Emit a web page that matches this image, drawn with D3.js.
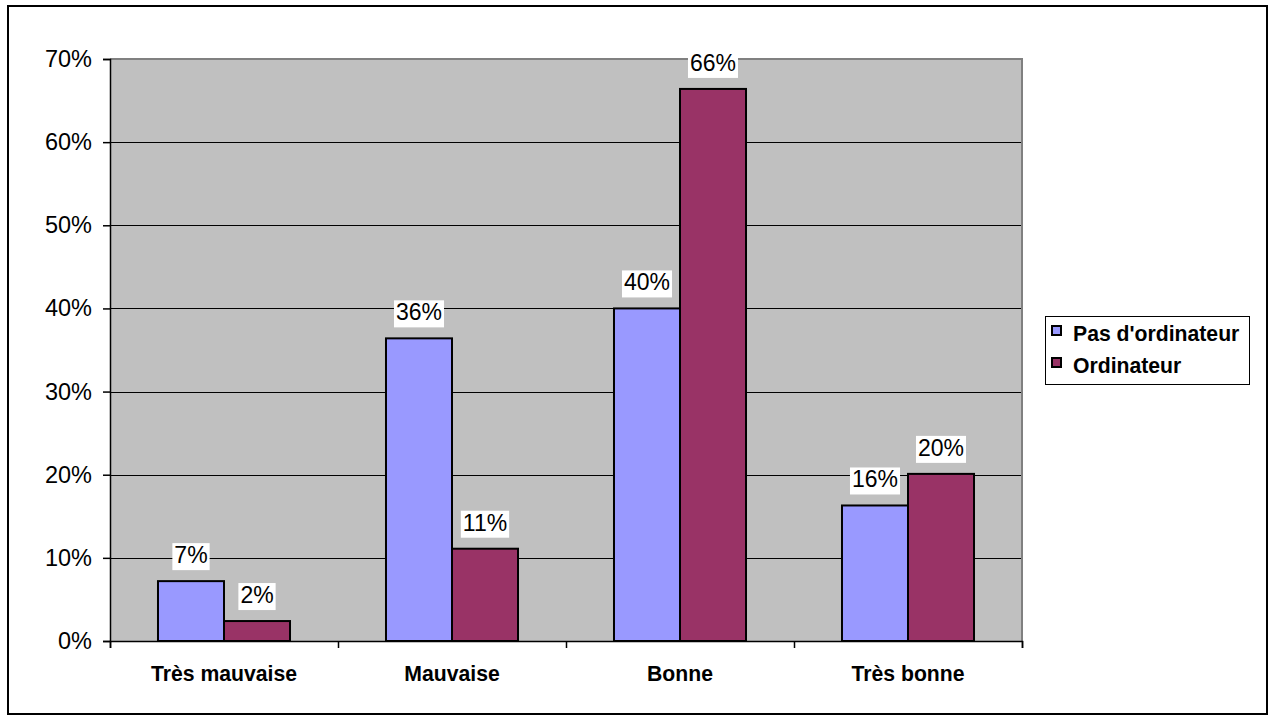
<!DOCTYPE html>
<html><head><meta charset="utf-8">
<script src="https://cdn.jsdelivr.net/npm/d3@7"></script>
<style>body{margin:0;background:#fff}svg{display:block}text{font-family:Arial,"Liberation Sans",sans-serif}</style>
</head><body>
<svg id="c" width="1269" height="722"></svg>
<script>
const categories = ["Très mauvaise", "Mauvaise", "Bonne", "Très bonne"];
const seriesNames = ["Pas d'ordinateur", "Ordinateur"];
const pasOrdinateur = [7.2, 36.4, 40.0, 16.3];
const ordinateur = [2.4, 11.1, 66.4, 20.1];
const yTicks = [0, 10, 20, 30, 40, 50, 60, 70];
const colors = ["#9999FF", "#993366"];

const svg = d3.select("#c");
const L = 110, R = 1022, T = 59, B = 641;

svg.append("rect").attr("x", 8).attr("y", 6).attr("width", 1259).attr("height", 708)
  .attr("fill", "#fff").attr("stroke", "#000").attr("stroke-width", 2);

const y = d3.scaleLinear().domain([0, 70]).range([B, T]);
const x0 = d3.scaleBand().domain(categories).range([L, R]).padding(0);
const x1 = d3.scaleBand().domain(seriesNames).range([0, x0.bandwidth()]).paddingInner(0).paddingOuter(0.727);

svg.append("rect").attr("x", L).attr("y", T).attr("width", R - L).attr("height", B - T).attr("fill", "#C0C0C0");

// gridlines
svg.append("g").selectAll("line").data(yTicks.filter(d => d > 0 && d < 70)).join("line")
  .attr("x1", L).attr("x2", R).attr("y1", d => Math.round(y(d)) + 0.5).attr("y2", d => Math.round(y(d)) + 0.5)
  .attr("stroke", "#000").attr("stroke-width", 1);

// plot border top/right gray
svg.append("path").attr("d", `M${L},${T}H${R}V${B}`).attr("fill", "none").attr("stroke", "#808080").attr("stroke-width", 2);

// y axis
const yAxis = d3.axisLeft(y).tickValues(yTicks).tickFormat(d => d + "%").tickSize(7).tickPadding(11);
const gy = svg.append("g").attr("transform", `translate(${L},0)`).call(yAxis);
gy.select(".domain").attr("stroke", "#000").attr("stroke-width", 1.5);
gy.selectAll(".tick line").attr("stroke", "#000").attr("stroke-width", 1.5);
gy.selectAll("text").attr("font-size", 23.5).attr("fill", "#000").attr("font-family", "Arial, 'Liberation Sans', sans-serif");

// x axis
const xAxis = d3.axisBottom(d3.scaleLinear().domain([0, 4]).range([L, R])).tickValues([0, 1, 2, 3, 4]).tickSize(7).tickFormat("");
const gx = svg.append("g").attr("transform", `translate(0,${B})`).call(xAxis);
gx.select(".domain").attr("stroke", "#000").attr("stroke-width", 1.5);
gx.selectAll(".tick line").attr("stroke", "#000").attr("stroke-width", 1.5);

svg.append("g").selectAll("text").data(categories).join("text")
  .attr("x", d => x0(d) + x0.bandwidth() / 2).attr("y", 681)
  .attr("text-anchor", "middle").attr("font-weight", "bold").attr("font-size", 21.2).text(d => d);

// bars
const data = categories.map((c, i) => ({ c, vals: [pasOrdinateur[i], ordinateur[i]] }));
const groups = svg.append("g").selectAll("g").data(data).join("g")
  .attr("transform", d => `translate(${x0(d.c)},0)`);
groups.selectAll("rect").data(d => d.vals.map((v, j) => ({ v, s: seriesNames[j], j }))).join("rect")
  .attr("x", d => x1(d.s)).attr("y", d => y(d.v)).attr("width", x1.bandwidth()).attr("height", d => B - y(d.v))
  .attr("fill", d => colors[d.j]).attr("stroke", "#000").attr("stroke-width", 2);

// data labels
groups.each(function (d) {
  const g = d3.select(this);
  d.vals.forEach((v, j) => {
    const cx = x1(seriesNames[j]) + x1.bandwidth() / 2;
    const by = y(v) - 18;
    const t = g.append("text").attr("x", cx).attr("y", by).attr("text-anchor", "middle")
      .attr("font-size", 23).text(Math.round(v) + "%");
    const bb = t.node().getBBox();
    g.insert("rect", () => t.node()).attr("x", bb.x - 2).attr("y", bb.y + 1).attr("width", bb.width + 4).attr("height", bb.height + 1).attr("fill", "#fff");
  });
});

// legend
const lg = svg.append("g");
lg.append("rect").attr("x", 1045.5).attr("y", 316.5).attr("width", 204).attr("height", 68)
  .attr("fill", "#fff").attr("stroke", "#000").attr("stroke-width", 1);
seriesNames.forEach((s, i) => {
  const yy = 331 + i * 32;
  lg.append("rect").attr("x", 1052).attr("y", yy - 5).attr("width", 9).attr("height", 9)
    .attr("fill", colors[i]).attr("stroke", "#000").attr("stroke-width", 2);
  lg.append("text").attr("x", 1073).attr("y", yy + 10).attr("font-weight", "bold").attr("font-size", 21.2).text(s);
});
</script>
</body></html>
